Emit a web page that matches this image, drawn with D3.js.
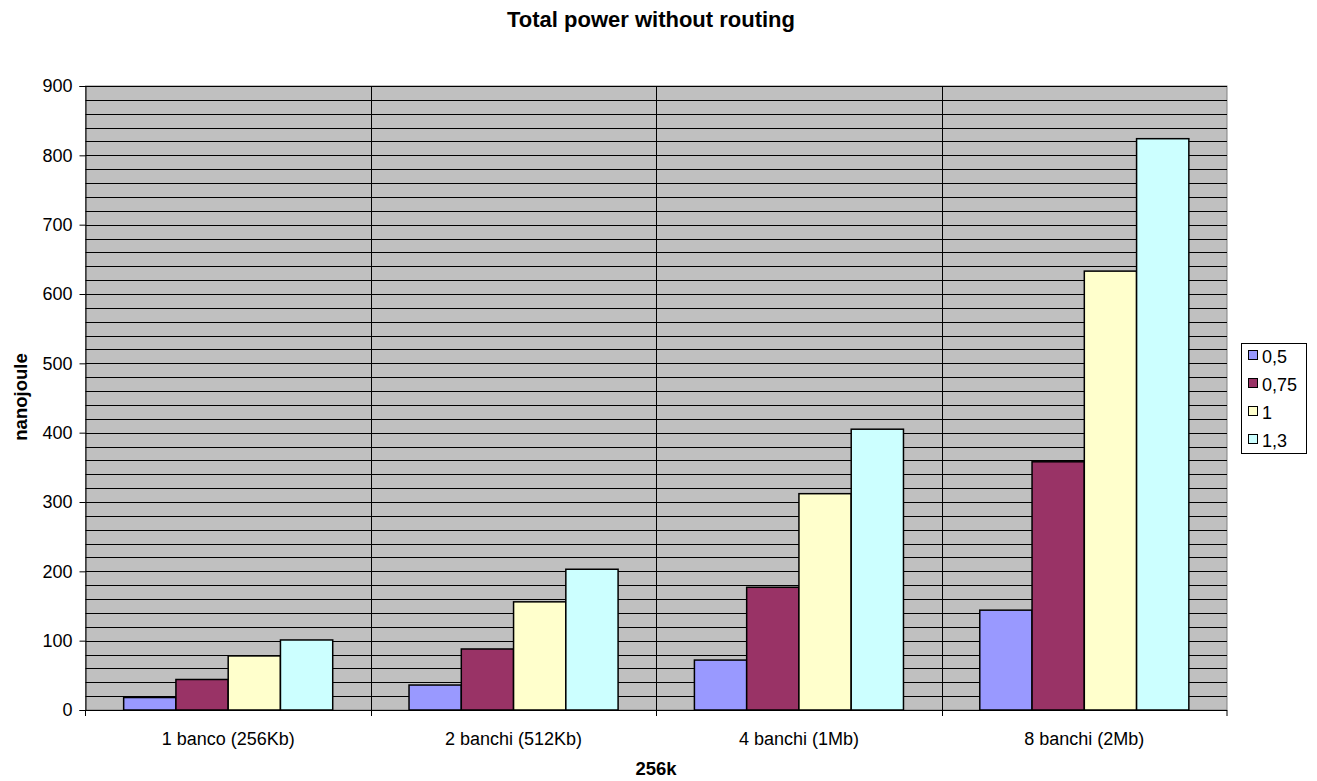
<!DOCTYPE html>
<html>
<head>
<meta charset="utf-8">
<script src="https://cdn.jsdelivr.net/npm/d3@7"></script>
<style>
body { margin: 0; background: #fff; }
svg { font-family: "Liberation Sans", Arial, sans-serif; }
</style>
</head>
<body>
<div id="chart"></div>
<script>
var categories = ["1 banco (256Kb)", "2 banchi (512Kb)", "4 banchi (1Mb)", "8 banchi (2Mb)"];
var seriesNames = ["0,5", "0,75", "1", "1,3"];
var seriesColors = ["#9999ff", "#993366", "#ffffcc", "#ccffff"];
var s05 = [18, 36, 72, 144];
var s075 = [44, 88, 177, 358];
var s1 = [78, 156, 312, 633];
var s13 = [101, 203, 405, 824];
var yTicks = [0, 100, 200, 300, 400, 500, 600, 700, 800, 900];

var seriesValues = [s05, s075, s1, s13];

var width = 1317, height = 781;
var plot = {left: 85.5, right: 1227, top: 86, bottom: 710};
var fontFamily = "Liberation Sans, Arial, sans-serif";

var svg = d3.select("#chart").append("svg")
	.attr("width", width)
	.attr("height", height);

var x = d3.scaleBand()
	.domain(categories)
	.range([plot.left, plot.right])
	.paddingInner(0)
	.paddingOuter(0);
var x1 = d3.scaleBand()
	.domain(seriesNames)
	.range([0, x.bandwidth()])
	.paddingOuter(0.73)
	.paddingInner(0);
var y = d3.scaleLinear()
	.domain([0, 900])
	.range([plot.bottom, plot.top]);

// plot background
svg.append("rect")
	.attr("x", plot.left).attr("y", plot.top)
	.attr("width", plot.right - plot.left)
	.attr("height", plot.bottom - plot.top)
	.attr("fill", "#c0c0c0")
	.attr("stroke", "#808080")
	.attr("stroke-width", 1);

// horizontal grid lines every 20
var gridVals = d3.range(20, 901, 20);
svg.append("g").selectAll("line")
	.data(gridVals)
	.enter().append("line")
	.attr("x1", plot.left).attr("x2", plot.right)
	.attr("y1", function(d){ return Math.round(y(d)) + 0.5; })
	.attr("y2", function(d){ return Math.round(y(d)) + 0.5; })
	.attr("stroke", "#000")
	.attr("stroke-width", 1);

// vertical category separators
svg.append("g").selectAll("line")
	.data(categories.slice(1))
	.enter().append("line")
	.attr("x1", function(d){ return Math.round(x(d)) + 0.5; })
	.attr("x2", function(d){ return Math.round(x(d)) + 0.5; })
	.attr("y1", plot.top).attr("y2", plot.bottom + 6)
	.attr("stroke", "#000");

// bars
var groups = svg.append("g").selectAll("g")
	.data(categories)
	.enter().append("g")
	.attr("transform", function(d){ return "translate(" + x(d) + ",0)"; });

groups.selectAll("rect")
	.data(function(d, i){
		return seriesNames.map(function(s, j){ return {key: s, value: seriesValues[j][i], color: seriesColors[j]}; });
	})
	.enter().append("rect")
	.attr("x", function(d){ return x1(d.key); })
	.attr("y", function(d){ return y(d.value); })
	.attr("width", x1.bandwidth())
	.attr("height", function(d){ return plot.bottom - y(d.value); })
	.attr("fill", function(d){ return d.color; })
	.attr("stroke", "#000")
	.attr("stroke-width", 1.5);

// y axis
var yAxis = svg.append("g")
	.attr("transform", "translate(" + plot.left + ",0)")
	.call(d3.axisLeft(y).tickValues(yTicks).tickSize(6).tickPadding(7));
yAxis.select(".domain").attr("stroke", "#000");
yAxis.selectAll("text").attr("font-size", "18px").attr("fill", "#000")
	.attr("font-family", fontFamily);

// x axis
var xAxis = svg.append("g")
	.attr("transform", "translate(0," + plot.bottom + ")")
	.call(d3.axisBottom(x).tickSize(0).tickPadding(22));
xAxis.select(".domain").attr("stroke", "#000").attr("d", "M" + plot.left + ",0.5H" + plot.right);
xAxis.selectAll("text").attr("font-size", "18px").attr("fill", "#000")
	.attr("font-family", fontFamily);
svg.append("g").selectAll("line")
	.data([plot.left, plot.right])
	.enter().append("line")
	.attr("x1", function(d){ return d; }).attr("x2", function(d){ return d; })
	.attr("y1", plot.bottom).attr("y2", plot.bottom + 6)
	.attr("stroke", "#000");

// titles
svg.append("text")
	.attr("x", 651).attr("y", 27)
	.attr("text-anchor", "middle")
	.attr("font-size", "22px").attr("font-weight", "bold")
	.text("Total power without routing");
svg.append("text")
	.attr("x", 656).attr("y", 775)
	.attr("text-anchor", "middle")
	.attr("font-size", "18.5px").attr("font-weight", "bold")
	.text("256k");
svg.append("text")
	.attr("transform", "translate(27,397) rotate(-90)")
	.attr("text-anchor", "middle")
	.attr("font-size", "18.5px").attr("font-weight", "bold")
	.text("nanojoule");

// legend
var legend = svg.append("g").attr("transform", "translate(1241,343)");
legend.append("rect")
	.attr("x", 0.5).attr("y", 0.5)
	.attr("width", 65).attr("height", 110)
	.attr("fill", "#fff").attr("stroke", "#000");
var items = legend.selectAll("g.item")
	.data(seriesNames)
	.enter().append("g")
	.attr("class", "item")
	.attr("transform", function(d, i){ return "translate(0," + (12 + i * 28) + ")"; });
items.append("rect")
	.attr("x", 7.5).attr("y", -4.5)
	.attr("width", 9).attr("height", 9)
	.attr("fill", function(d, i){ return seriesColors[i]; })
	.attr("stroke", "#000");
items.append("text")
	.attr("x", 21).attr("y", 8)
	.attr("font-size", "18px")
	.text(function(d){ return d; });
</script>
</body>
</html>
